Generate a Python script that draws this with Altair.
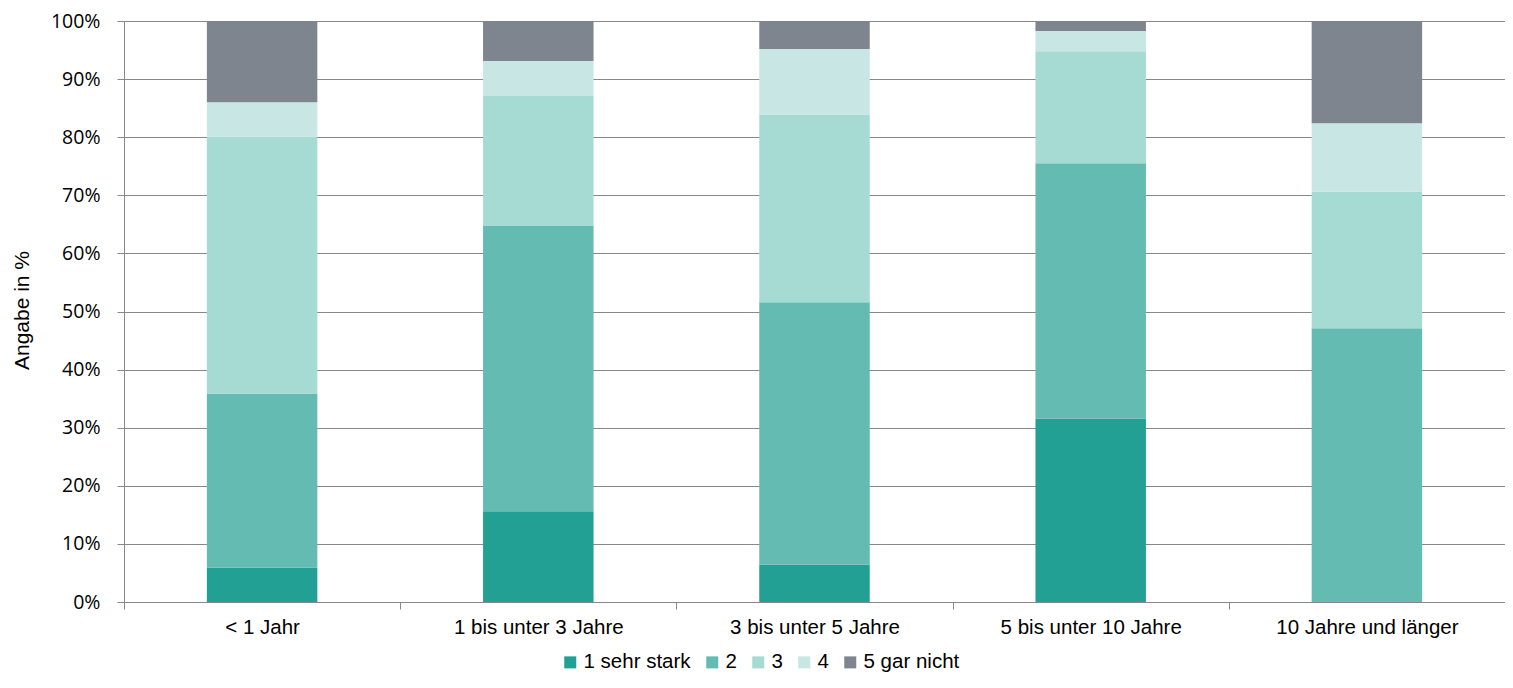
import altair as alt
import pandas as pd

categories = ["< 1 Jahr", "1 bis unter 3 Jahre", "3 bis unter 5 Jahre", "5 bis unter 10 Jahre", "10 Jahre und länger"]
series = ["1 sehr stark", "2", "3", "4", "5 gar nicht"]
colors = ["#22a093", "#64bbb1", "#a6dbd3", "#c8e6e4", "#7f858f"]
values = {
    "1 sehr stark": [5.9, 15.6, 6.4, 31.6, 0.0],
    "2": [30.0, 49.1, 45.2, 43.9, 47.1],
    "3": [44.2, 22.4, 32.3, 19.3, 23.5],
    "4": [5.9, 6.0, 11.3, 3.5, 11.8],
    "5 gar nicht": [14.0, 6.9, 4.8, 1.7, 17.6],
}

rows = []
for si, s in enumerate(series):
    for ci, c in enumerate(categories):
        rows.append({"cat": c, "series": s, "idx": si, "value": values[s][ci] / 100.0})
df = pd.DataFrame(rows)

chart = alt.Chart(df).mark_bar(width=alt.RelativeBandSize(0.4)).encode(
    x=alt.X("cat:N", sort=categories, title=None,
            scale=alt.Scale(paddingInner=0, paddingOuter=0),
            axis=alt.Axis(tickBand="extent", labelAngle=0, labelFont="Liberation Sans",
                          labelFontSize=20.5, labelColor="#000000", labelPadding=8,
                          labelLimit=0, tickSize=7, tickColor="#888888",
                          domainColor="#888888", grid=False)),
    y=alt.Y("value:Q", stack="zero", title="Angabe in %",
            scale=alt.Scale(domain=[0, 1], nice=False),
            axis=alt.Axis(format=".0%", values=[i / 10 for i in range(11)],
                          labelFont="Open Sans", labelFontSize=19.5, labelColor="#000000",
                          labelPadding=17, tickSize=7, tickColor="#888888",
                          domainColor="#888888", gridColor="#888888", gridWidth=1,
                          titleFont="Liberation Sans", titleFontSize=21,
                          titleFontWeight="normal", titleColor="#000000",
                          titleX=-102, titleY=289, titleAngle=-90,
                          titleAlign="center", titleBaseline="middle")),
    color=alt.Color("series:N", sort=series,
                    scale=alt.Scale(domain=series, range=colors),
                    legend=alt.Legend(title=None, orient="none", direction="horizontal",
                                      legendX=436, legendY=631, symbolType="square",
                                      symbolSize=144, symbolStrokeWidth=0,
                                      labelFont="Liberation Sans", labelFontSize=20.5,
                                      labelColor="#000000", columnPadding=11,
                                      labelOffset=3, labelLimit=0)),
    order=alt.Order("idx:Q", sort="ascending"),
).properties(
    width=1381, height=581,
    autosize=alt.AutoSizeParams(type="none"),
    padding={"left": 116, "top": 13, "right": 0, "bottom": 70},
).configure_view(stroke=None)

chart.save("out.html", embed_options={"renderer": "svg", "actions": False})
